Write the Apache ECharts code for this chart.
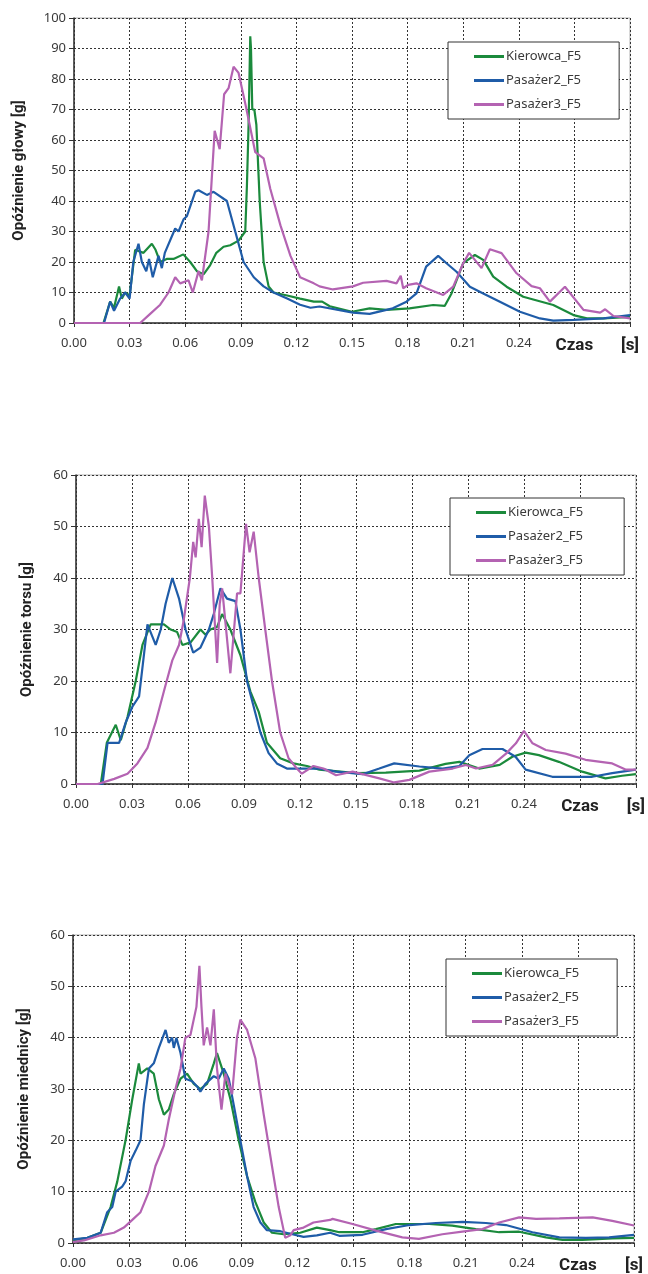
<!DOCTYPE html>
<html>
<head>
<meta charset="utf-8">
<script src="https://cdn.jsdelivr.net/npm/echarts@6/dist/echarts.min.js"></script>
<style>
  html, body { margin: 0; padding: 0; background: #fff; }
  #chart { width: 648px; height: 1274px; }
</style>
</head>
<body>
<div id="chart"></div>
<script>
// series names and colours
const seriesNames = ['Kierowca_F5', 'Pasażer2_F5', 'Pasażer3_F5'];
const seriesColors = ['#1b8a3c', '#1f5ca8', '#b463b2'];
const yNames = ['Opóźnienie głowy [g]', 'Opóźnienie torsu [g]', 'Opóźnienie miednicy [g]'];
const yMax = [100, 60, 60];

// head  [t (s), g]
const headGreen = [[0,0],[0.0159,0],[0.0195,7],[0.0216,5],[0.0243,12],[0.0258,8],[0.0276,10],[0.030,9],[0.033,24],[0.0375,23],[0.042,26],[0.044,24],[0.0465,20],[0.050,21],[0.0537,21],[0.059,22.5],[0.0627,20],[0.0663,17],[0.070,16],[0.0735,19],[0.0768,23],[0.0807,25],[0.0843,25.5],[0.0888,27],[0.0924,30],[0.0933,45],[0.0942,65],[0.0951,94],[0.0955,90],[0.0962,70],[0.0973,70],[0.0984,65],[0.1002,40],[0.1023,20],[0.105,12],[0.1077,10],[0.115,9],[0.122,8],[0.1294,7],[0.1339,7],[0.1380,5.5],[0.15,3.7],[0.1595,4.8],[0.1686,4.3],[0.181,4.8],[0.1938,5.9],[0.200,5.6],[0.2037,9.7],[0.210,19.6],[0.2163,22.3],[0.2208,20.7],[0.2262,15.2],[0.2334,11.9],[0.2424,8.6],[0.2586,5.9],[0.2695,2.6],[0.2767,1.5],[0.2857,1.5],[0.30,2]];
const headBlue = [[0,0],[0.0162,0],[0.0195,7],[0.0216,4],[0.0249,8],[0.0276,10],[0.030,8],[0.032,20],[0.0348,26],[0.0366,20],[0.039,17],[0.0405,21],[0.0425,15],[0.0456,22],[0.0474,18],[0.049,23],[0.0546,31],[0.0564,30],[0.0591,34],[0.0609,35],[0.0654,43],[0.0672,43.5],[0.0717,42],[0.0753,43],[0.0825,40],[0.087,30],[0.0915,20],[0.097,15],[0.1023,12],[0.1077,10],[0.115,8],[0.122,6],[0.1276,5],[0.1325,5.4],[0.1505,3.4],[0.1595,3],[0.172,4.8],[0.1794,7],[0.1848,9.7],[0.190,18.5],[0.1965,22],[0.201,19.6],[0.2064,16.8],[0.2136,11.9],[0.2208,9.7],[0.2298,7],[0.2406,3.7],[0.2514,1.5],[0.2586,0.8],[0.2695,1],[0.2857,1.5],[0.30,2.6]];
const headPink = [[0,0],[0.0357,0],[0.0411,3],[0.0465,6],[0.051,10],[0.0546,15],[0.0573,13],[0.0618,14],[0.0641,10],[0.0672,17],[0.069,14],[0.0726,30],[0.0759,63],[0.0786,57],[0.081,75],[0.0834,77],[0.0861,84],[0.0888,82],[0.0924,72],[0.0951,64],[0.0978,56],[0.1023,54],[0.1059,44],[0.1114,32],[0.1168,22],[0.122,15],[0.1294,13],[0.1325,12],[0.1397,11],[0.1505,12],[0.156,13.2],[0.1686,13.8],[0.174,13],[0.1763,15.5],[0.1776,11.4],[0.1803,12.5],[0.1848,13],[0.190,11.4],[0.1992,9.2],[0.2046,11.9],[0.210,19.6],[0.2132,23],[0.2199,18],[0.2244,24.2],[0.2307,22.9],[0.2388,16.3],[0.2469,12.1],[0.2514,11.4],[0.2568,7],[0.2649,11.9],[0.2749,4.3],[0.2839,3.4],[0.2866,4.5],[0.2911,2.3],[0.30,1.5]];

// torso
const torsoGreen = [[0,0],[0.0133,0],[0.0165,8],[0.0213,11.5],[0.024,8.5],[0.0276,13],[0.032,20],[0.0356,27],[0.040,31],[0.0471,31],[0.0507,30],[0.0542,29.5],[0.057,27],[0.0614,27.5],[0.0667,30],[0.0694,29],[0.072,30],[0.0756,30.5],[0.0783,33],[0.0827,30],[0.0881,25],[0.0934,18],[0.0979,14],[0.1023,8],[0.1094,5],[0.1165,4],[0.1237,3.5],[0.1304,2.8],[0.15,2.1],[0.166,2.2],[0.184,2.6],[0.198,3.9],[0.2054,4.3],[0.216,3],[0.227,3.7],[0.2338,5.3],[0.2409,6.1],[0.248,5.6],[0.2587,4.3],[0.2712,2.4],[0.2837,1.1],[0.2926,1.6],[0.30,1.9]];
const torsoBlue = [[0,0],[0.0142,0],[0.0169,8],[0.0231,8],[0.0267,12],[0.0302,15],[0.0338,17],[0.0383,31],[0.0427,27],[0.0454,30],[0.048,35],[0.0516,40],[0.0552,36],[0.0587,30],[0.0628,25.5],[0.0667,26.5],[0.0712,30],[0.0738,33],[0.0774,38],[0.0809,36],[0.0854,35.5],[0.0881,30],[0.0916,20],[0.0952,15],[0.0988,10],[0.1032,6],[0.1076,4],[0.113,3],[0.1254,3],[0.1304,3],[0.1393,2.4],[0.1536,1.9],[0.1625,3],[0.1705,4],[0.184,3.4],[0.1964,3],[0.2054,3.5],[0.2107,5.6],[0.2178,6.8],[0.2285,6.8],[0.2355,5.3],[0.2409,2.8],[0.2552,1.4],[0.2766,1.4],[0.2873,2.1],[0.30,2.8]];
const torsoPink = [[0,0],[0.0116,0],[0.0205,1],[0.0276,2],[0.0329,4],[0.0383,7],[0.0427,12],[0.0471,18],[0.0516,24],[0.0552,27],[0.0578,32],[0.061,40],[0.0628,47],[0.0641,44],[0.0658,51.5],[0.0673,46],[0.069,56],[0.0712,50],[0.073,40],[0.0756,23.5],[0.077,35],[0.0783,38],[0.0827,21.5],[0.0863,37],[0.0881,37],[0.0911,50.5],[0.093,45],[0.0952,49],[0.0979,40],[0.1014,30],[0.105,20],[0.1094,10],[0.1139,5],[0.1183,3],[0.121,2],[0.1272,3.5],[0.1326,3],[0.1393,1.7],[0.1482,2.4],[0.1625,1.1],[0.1705,0.3],[0.1786,0.8],[0.1893,2.4],[0.2018,3],[0.2089,3.7],[0.2143,3],[0.2232,3.7],[0.2304,5.9],[0.2357,7.9],[0.240,10.3],[0.2446,7.9],[0.2517,6.6],[0.2623,5.9],[0.273,4.7],[0.2873,4],[0.2944,2.8],[0.30,2.8]];

// pelvis
const pelvisGreen = [[0,0.5],[0.0077,1],[0.0148,2],[0.0201,7],[0.0237,12],[0.0281,20],[0.0317,28],[0.0352,35],[0.0361,33],[0.0397,34],[0.0432,33],[0.0459,28],[0.0486,25],[0.0512,26],[0.0539,29],[0.0575,32],[0.061,33],[0.0646,31],[0.0681,30],[0.0717,31],[0.0753,35],[0.077,37],[0.0806,33],[0.0842,28],[0.0886,20],[0.0931,13],[0.0975,8],[0.102,4],[0.1064,2],[0.1126,1.7],[0.1215,2],[0.1304,3],[0.1375,2.5],[0.1424,2.1],[0.1548,2.1],[0.162,2.7],[0.1726,3.7],[0.1905,3.7],[0.2028,3.4],[0.2154,2.7],[0.2279,2.1],[0.2386,2.2],[0.2529,1.1],[0.2618,0.6],[0.2725,0.6],[0.2884,0.9],[0.30,1]];
const pelvisBlue = [[0,0.7],[0.0077,1],[0.0148,2],[0.0183,6],[0.021,7],[0.0228,10],[0.0263,11],[0.0281,12],[0.0308,16],[0.0335,18],[0.0361,20],[0.0379,27],[0.0406,34],[0.0432,35],[0.0459,38],[0.0495,41.5],[0.0512,39],[0.053,40],[0.0539,38],[0.0553,40],[0.0575,37],[0.0601,32],[0.0637,31.5],[0.0664,30.5],[0.0681,29.5],[0.0708,31],[0.0753,32.5],[0.0779,32],[0.0806,34],[0.0833,32],[0.0859,27],[0.0895,20],[0.0931,13],[0.0966,7],[0.1002,4],[0.1037,2.5],[0.1109,2.3],[0.1162,1.8],[0.1233,1.2],[0.1304,1.5],[0.1375,2],[0.1424,1.4],[0.1548,1.6],[0.1674,2.7],[0.1799,3.5],[0.1941,3.9],[0.2084,4.1],[0.2208,3.9],[0.2315,3.5],[0.2457,2.1],[0.2601,1.1],[0.2743,1],[0.2867,1.1],[0.30,1.6]];
const pelvisPink = [[0,0.2],[0.0059,0.5],[0.0148,1.5],[0.0219,2],[0.0272,3],[0.0317,4.5],[0.0361,6],[0.0406,10],[0.0441,15],[0.0486,19],[0.0512,24],[0.0548,30],[0.0575,34],[0.0601,40],[0.0628,40.5],[0.066,46],[0.0676,54],[0.0687,46],[0.0699,38.5],[0.0717,42],[0.0735,38.5],[0.0753,45.5],[0.077,34],[0.0794,26],[0.0815,33],[0.0851,29],[0.0877,40],[0.0895,43.5],[0.0931,41.5],[0.0975,36],[0.102,25],[0.1064,15],[0.110,7],[0.1135,1],[0.1162,1.5],[0.118,2.5],[0.1233,3],[0.1286,4],[0.1375,4.5],[0.1388,4.7],[0.1495,3.7],[0.162,2.4],[0.1761,1.1],[0.185,0.8],[0.1975,1.7],[0.2082,2.2],[0.2189,2.7],[0.2279,4],[0.2386,5],[0.2476,4.7],[0.2601,4.8],[0.2779,5],[0.2884,4.3],[0.30,3.4]];

const chartData = [
    [headGreen, headBlue, headPink],
    [torsoGreen, torsoBlue, torsoPink],
    [pelvisGreen, pelvisBlue, pelvisPink]
];

const grids = [
    { left: 74, right: 18, top: 18, height: 305 },
    { left: 76, right: 11, top: 475, height: 309 },
    { left: 73, right: 14, top: 935, height: 309 }
];
const legendPos = [
    { left: 448, top: 42, padRight: 38 },
    { left: 450, top: 498, padRight: 41 },
    { left: 446, top: 959, padRight: 38 }
];
const nameGaps = [47, 41, 41];

const fontFamily = 'Noto Sans';
const textColor = '#3a3a3a';
const dotted = { color: '#333', width: 1, type: [2, 2] };

const option = {
    animation: false,
    backgroundColor: '#fff',
    grid: grids.map(g => Object.assign({ show: true, borderColor: '#b0b0b0', borderWidth: 1 }, g)),
    xAxis: grids.map((g, i) => ({
        type: 'value',
        gridIndex: i,
        min: 0,
        max: 0.30,
        interval: 0.03,
        axisLine: { lineStyle: { color: '#333', width: 1.5 } },
        axisTick: { show: true, length: 4, lineStyle: { color: '#333' } },
        splitLine: { show: true, lineStyle: dotted },
        axisLabel: {
            color: textColor,
            fontFamily: fontFamily,
            fontSize: 13,
            margin: 14,
            showMaxLabel: true,
            hideOverlap: false,
            formatter: function (v) {
                if (v > 0.285) return '{b|[s]}';
                if (v > 0.255) return '{b|Czas}';
                return v.toFixed(2);
            },
            rich: {
                b: { fontFamily: 'Roboto', fontSize: 17, fontWeight: 'bold', color: '#222' }
            }
        }
    })),
    yAxis: grids.map((g, i) => ({
        type: 'value',
        gridIndex: i,
        min: 0,
        max: yMax[i],
        interval: 10,
        name: yNames[i],
        nameLocation: 'middle',
        nameGap: nameGaps[i],
        nameTextStyle: { fontFamily: 'Roboto', fontSize: 15, fontWeight: 'bold', color: '#222' },
        axisLine: { show: true, lineStyle: { color: '#333', width: 1.5 } },
        axisTick: { show: true, length: 5, lineStyle: { color: '#333' } },
        splitLine: { show: true, lineStyle: dotted },
        axisLabel: { color: textColor, fontFamily: fontFamily, fontSize: 13, margin: 8 }
    })),
    legend: legendPos.map(p => ({
        left: p.left,
        top: p.top,
        orient: 'vertical',
        data: seriesNames,
        icon: 'rect',
        itemWidth: 30,
        itemHeight: 3,
        itemGap: 11,
        padding: [8, p.padRight, 8, 26],
        borderColor: '#333',
        borderWidth: 1,
        backgroundColor: '#fff',
        selectedMode: false,
        textStyle: { fontFamily: fontFamily, fontSize: 13, color: textColor, padding: [0, 0, 0, -3] }
    })),
    series: []
};

chartData.forEach((group, gi) => {
    group.forEach((points, si) => {
        option.series.push({
            name: seriesNames[si],
            type: 'line',
            xAxisIndex: gi,
            yAxisIndex: gi,
            data: points,
            showSymbol: false,
            symbol: 'none',
            color: seriesColors[si],
            lineStyle: { width: 2.2, color: seriesColors[si] }
        });
    });
});

const chart = echarts.init(document.getElementById('chart'));
chart.setOption(option);
</script>
</body>
</html>
